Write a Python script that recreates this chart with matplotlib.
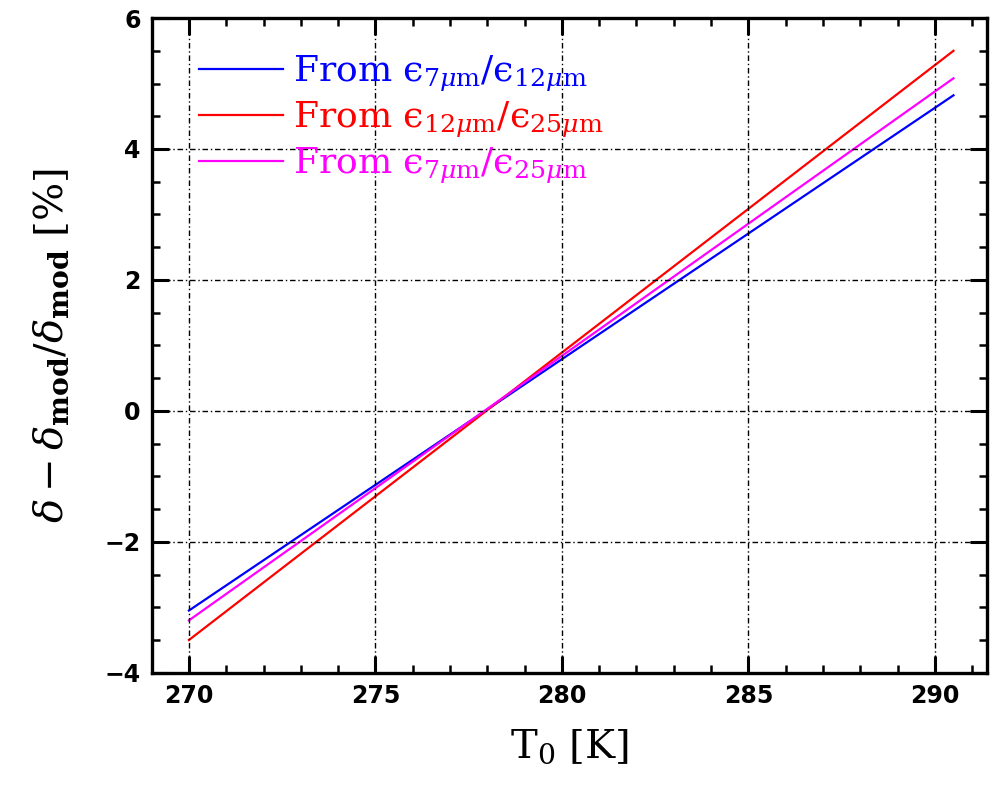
import matplotlib
matplotlib.use("Agg")
import matplotlib.pyplot as plt
from matplotlib.ticker import MultipleLocator

# data: straight lines
t0 = [270.0, 290.5]
from_7_12 = [-3.05, 4.82]
from_12_25 = [-3.50, 5.50]
from_7_25 = [-3.20, 5.08]

EPS = "\u03f5"  # lunate epsilon
series = [
    (from_7_12, "blue", rf"From $\mathrm{{{EPS}}}_{{7\mu\mathrm{{m}}}}/\mathrm{{{EPS}}}_{{12\mu\mathrm{{m}}}}$"),
    (from_12_25, "red", rf"From $\mathrm{{{EPS}}}_{{12\mu\mathrm{{m}}}}/\mathrm{{{EPS}}}_{{25\mu\mathrm{{m}}}}$"),
    (from_7_25, "magenta", rf"From $\mathrm{{{EPS}}}_{{7\mu\mathrm{{m}}}}/\mathrm{{{EPS}}}_{{25\mu\mathrm{{m}}}}$"),
]

plt.rcParams["mathtext.fontset"] = "dejavuserif"

fig = plt.figure(figsize=(9.91, 7.85), dpi=100)
ax = fig.add_axes([0.153, 0.143, 0.843, 0.834])

for y, color, label in series:
    ax.plot(t0, y, color=color, lw=1.6, label=label)

ax.set_xlim(269, 291.4)
ax.set_ylim(-4, 6)

ax.xaxis.set_major_locator(MultipleLocator(5))
ax.xaxis.set_minor_locator(MultipleLocator(1))
ax.yaxis.set_major_locator(MultipleLocator(2))
ax.yaxis.set_minor_locator(MultipleLocator(0.5))

ax.grid(True, which="major", color="black", lw=1.0, linestyle=(0, (4, 2, 1, 2)))
ax.set_axisbelow(False)

ax.tick_params(which="both", direction="in", top=True, right=True)
ax.tick_params(which="major", length=12, width=2.2, labelsize=17, pad=8)
ax.tick_params(which="minor", length=6, width=1.8)
for lab in ax.get_xticklabels() + ax.get_yticklabels():
    lab.set_fontweight("heavy")
    lab.set_family("DejaVu Sans")
for sp in ax.spines.values():
    sp.set_linewidth(2.4)

ax.set_xlabel(r"T$_0$ [K]", fontsize=29, family="DejaVu Serif", labelpad=14)
ax.set_ylabel(r"$\delta-\delta_{\mathbf{mod}}/\delta_{\mathbf{mod}}$ [%]",
              fontsize=29, family="DejaVu Serif", labelpad=24)

leg = ax.legend(loc="upper left", frameon=False, labelcolor="linecolor",
                prop={"family": "DejaVu Serif", "size": 26},
                handlelength=2.3, handletextpad=0.3, labelspacing=0.15,
                borderaxespad=0.0, bbox_to_anchor=(0.04, 0.968))

fig.savefig("out.png", dpi=100)
